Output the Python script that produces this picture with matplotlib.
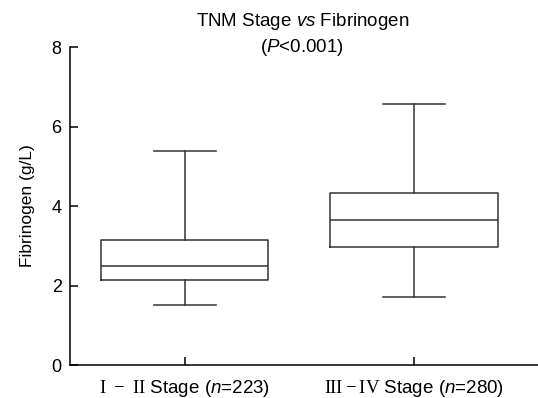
import matplotlib
matplotlib.use("Agg")
import matplotlib.pyplot as plt

# box plot summaries: lower whisker, Q1, median, Q3, upper whisker
groups = [r"$\mathrm{I}\ -\ \mathrm{II}$ Stage ($n$=223)", r"$\mathrm{III}-\mathrm{IV}$ Stage ($n$=280)"]
whislo = [1.51, 1.71]
q1 = [2.14, 2.98]
med = [2.49, 3.65]
q3 = [3.15, 4.32]
whishi = [5.39, 6.57]
yticks = [0, 2, 4, 6, 8]

plt.rcParams["font.family"] = "Liberation Sans"
plt.rcParams["mathtext.fontset"] = "custom"
plt.rcParams["mathtext.rm"] = "Liberation Serif"
plt.rcParams["mathtext.it"] = "Liberation Sans:italic"

stats = []
for i in range(len(groups)):
    stats.append({"whislo": whislo[i], "q1": q1[i], "med": med[i],
                  "q3": q3[i], "whishi": whishi[i], "fliers": []})

fig = plt.figure(figsize=(5.38, 3.98), dpi=100)
ax = fig.add_axes([0.1301, 0.0829, 0.8699, 0.799])

line = dict(color="#333333", linewidth=1.1)
ax.bxp(stats, positions=[1, 2], widths=0.73, capwidths=0.27,
       boxprops=line, medianprops=line, whiskerprops=line, capprops=line,
       showfliers=False)

ax.set_xlim(0.5, 2.54)
ax.set_ylim(0, 8)
ax.set_yticks(yticks)
ax.set_xticks([1, 2])
ax.set_xticklabels(groups)

for side in ["top", "right"]:
    ax.spines[side].set_visible(False)
for side in ["left", "bottom"]:
    ax.spines[side].set_linewidth(1.1)

ax.tick_params(axis="both", direction="in", length=6, width=1.1)
ax.tick_params(axis="y", pad=6, labelsize=13)
ax.tick_params(axis="x", pad=9.5, labelsize=13.5)
ax.set_ylabel("Fibrinogen (g/L)", fontsize=12.5, labelpad=12)

fig.text(0.562, 0.947, r"TNM Stage $\mathit{vs}$ Fibrinogen", ha="center", va="center", fontsize=13.5)
fig.text(0.562, 0.881, r"($\mathit{P}$<0.001)", ha="center", va="center", fontsize=13.5)

fig.savefig("out.png", dpi=100)
